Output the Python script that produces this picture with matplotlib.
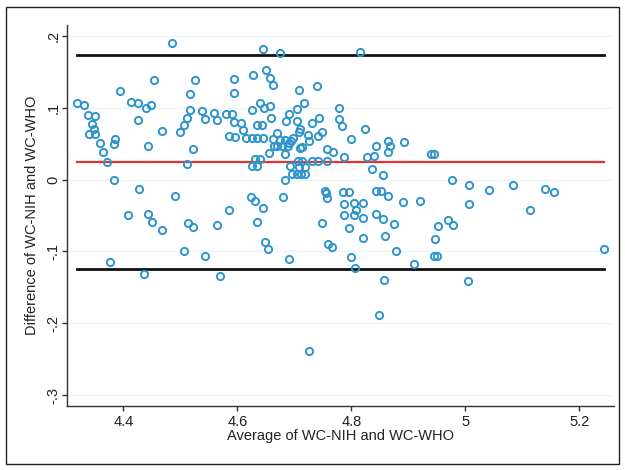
import numpy as np
import matplotlib.pyplot as plt
from matplotlib.patches import Rectangle

# Bland-Altman: average vs difference of WC-NIH and WC-WHO
avg = [4.486, 4.318, 4.331, 4.338, 4.351, 4.345, 4.348, 4.339, 4.351, 4.359,
       4.365, 4.372, 4.384, 4.394, 4.386, 4.383, 4.413, 4.425, 4.425, 4.427,
       4.439, 4.449, 4.454, 4.444, 4.467, 4.490, 4.500, 4.506, 4.511, 4.517,
       4.516, 4.525, 4.522, 4.511, 4.538, 4.544, 4.559, 4.565, 4.580, 4.590,
       4.594, 4.606, 4.585, 4.596, 4.610, 4.616, 4.594, 4.594, 4.645, 4.675,
       4.816, 4.628, 4.651, 4.657, 4.662, 4.708, 4.739, 4.639, 4.625, 4.646,
       4.658, 4.705, 4.717, 4.778, 4.659, 4.691, 4.686, 4.744, 4.778, 4.783,
       4.824, 4.635, 4.644, 4.705, 4.710, 4.708, 4.731, 4.669, 4.748, 4.741,
       4.724, 4.697, 4.626, 4.635, 4.645, 4.663, 4.674, 4.683, 4.695, 4.690,
       4.726, 4.669, 4.664, 4.679, 4.688, 4.710, 4.714, 4.683, 4.655, 4.758,
       4.768, 4.787, 4.800, 4.828, 4.840, 4.844, 4.864, 4.867, 4.864, 4.893,
       4.631, 4.639, 4.626, 4.635, 4.706, 4.714, 4.731, 4.741, 4.758, 4.692,
       4.709, 4.719, 4.696, 4.705, 4.711, 4.719, 4.683, 4.836, 4.856, 4.624,
       4.680, 4.754, 4.755, 4.758, 4.786, 4.796, 4.844, 4.852, 4.864, 4.939,
       4.945, 4.976, 5.007, 5.042, 5.083, 5.140, 5.155, 4.408, 4.444, 4.450,
       4.467, 4.514, 4.522, 4.565, 4.586, 4.376, 4.436, 4.506, 4.543, 4.569,
       4.631, 4.645, 4.635, 4.649, 4.654, 4.691, 4.787, 4.804, 4.821, 4.808,
       4.787, 4.804, 4.821, 4.749, 4.796, 4.820, 4.844, 4.856, 4.875, 4.859,
       4.878, 4.890, 4.920, 4.759, 4.766, 4.799, 4.807, 4.857, 4.848, 4.725,
       4.910, 5.007, 5.114, 4.969, 4.979, 4.952, 4.946, 4.945, 4.951, 5.004,
       5.244]
diff = [0.190, 0.106, 0.104, 0.090, 0.089, 0.077, 0.071, 0.064, 0.064, 0.051,
        0.038, 0.024, -0.001, 0.123, 0.056, 0.049, 0.108, 0.107, 0.083, -0.013,
        0.099, 0.104, 0.138, 0.046, 0.068, -0.023, 0.066, 0.076, 0.086, 0.097,
        0.119, 0.139, 0.043, 0.021, 0.096, 0.084, 0.093, 0.083, 0.091, 0.091,
        0.080, 0.079, 0.060, 0.059, 0.069, 0.058, 0.140, 0.120, 0.181, 0.176,
        0.177, 0.146, 0.152, 0.141, 0.131, 0.125, 0.130, 0.106, 0.097, 0.100,
        0.103, 0.098, 0.106, 0.100, 0.085, 0.091, 0.082, 0.086, 0.084, 0.074,
        0.071, 0.076, 0.076, 0.081, 0.071, 0.066, 0.078, 0.065, 0.066, 0.060,
        0.062, 0.058, 0.058, 0.058, 0.058, 0.057, 0.055, 0.055, 0.053, 0.051,
        0.053, 0.046, 0.046, 0.046, 0.046, 0.044, 0.045, 0.036, 0.037, 0.042,
        0.038, 0.032, 0.057, 0.031, 0.033, 0.046, 0.053, 0.046, 0.038, 0.052,
        0.028, 0.028, 0.019, 0.019, 0.026, 0.026, 0.026, 0.026, 0.026, 0.019,
        0.018, 0.018, 0.008, 0.008, 0.008, 0.008, -0.001, 0.015, 0.007, -0.024,
        -0.024, -0.016, -0.019, -0.025, -0.017, -0.017, -0.016, -0.016, -0.023, 0.035,
        0.035, -0.001, -0.007, -0.014, -0.007, -0.013, -0.018, -0.050, -0.048, -0.059,
        -0.070, -0.061, -0.066, -0.063, -0.042, -0.114, -0.131, -0.100, -0.107, -0.134,
        -0.030, -0.039, -0.059, -0.087, -0.096, -0.110, -0.034, -0.033, -0.033, -0.042,
        -0.050, -0.050, -0.053, -0.061, -0.067, -0.081, -0.048, -0.055, -0.062, -0.078,
        -0.100, -0.031, -0.030, -0.090, -0.094, -0.108, -0.123, -0.140, -0.188, -0.239,
        -0.118, -0.034, -0.043, -0.056, -0.063, -0.064, -0.083, -0.106, -0.107, -0.141,
        -0.096]

mean_diff = 0.0241
upper_loa = 0.1731
lower_loa = -0.1238

yticks = [0.2, 0.1, 0, -0.1, -0.2, -0.3]
ytick_labels = ['.2', '.1', '0', '-.1', '-.2', '-.3']
xticks = [4.4, 4.6, 4.8, 5.0, 5.2]
xtick_labels = ['4.4', '4.6', '4.8', '5', '5.2']

plt.rcParams['font.family'] = ['Liberation Sans', 'DejaVu Sans']

fig = plt.figure(figsize=(6.25, 4.7), dpi=100)
ax = fig.add_axes([0.1072, 0.1362, 0.8752, 0.8106])

for t in yticks:
    ax.axhline(t, color='#eaf3f5', lw=1.0, zorder=0)

xmin, xmax = min(avg), max(avg)
ax.plot([xmin, xmax], [upper_loa, upper_loa], color='#111111', lw=2.0, zorder=2)
ax.plot([xmin, xmax], [lower_loa, lower_loa], color='#111111', lw=2.0, zorder=2)
ax.plot([xmin, xmax], [mean_diff, mean_diff], color='#e8302c', lw=1.6, zorder=2)

ax.plot(avg, diff, 'o', ms=5.2, mfc='none', mec='#2e95cc', mew=1.4, zorder=3)

ax.set_xlim(4.301, 5.261)
ax.set_ylim(-0.315, 0.215)
ax.set_xticks(xticks)
ax.set_xticklabels(xtick_labels, fontsize=10.5, color='#222222')
ax.set_yticks(yticks)
ax.set_yticklabels(ytick_labels, fontsize=10.5, color='#222222', rotation=90, va='center')
ax.tick_params(direction='out', length=3.5, width=1, color='#333333', pad=3)
ax.tick_params(axis='y', pad=1)

for s in ['top', 'right']:
    ax.spines[s].set_visible(False)
for s in ['left', 'bottom']:
    ax.spines[s].set_color('#333333')
    ax.spines[s].set_linewidth(1.0)

ax.set_xlabel('Average of WC-NIH and WC-WHO', fontsize=10.5, color='#222222', labelpad=0)
ax.set_ylabel('Difference of WC-NIH and WC-WHO', fontsize=10.5, color='#222222')
ax.yaxis.set_label_coords(-0.052, 0.5)

# outer frame around the whole picture
fig.patches.append(Rectangle((0.009, 0.012), 0.982, 0.974, transform=fig.transFigure,
                             fill=False, edgecolor='#222222', lw=1.0))

fig.savefig('out.png', dpi=100)
